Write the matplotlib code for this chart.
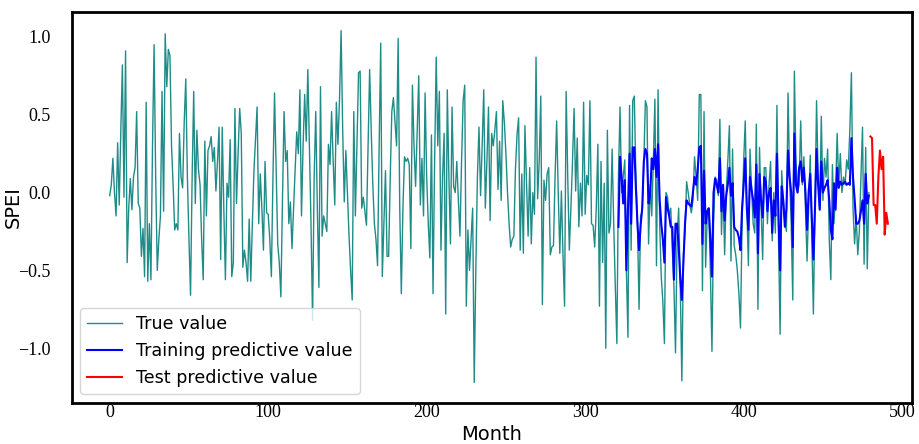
import matplotlib
matplotlib.use("Agg")
import matplotlib.pyplot as plt
import numpy as np

true_values = [
    -0.02, 0.05, 0.22, 0.0, -0.15, 0.32, -0.08, 0.40, 0.82, -0.03,
    0.91, -0.45, -0.10, 0.09, -0.11, 0.10, 0.16, 0.52, -0.07, -0.10,
    -0.41, -0.23, -0.54, 0.58, -0.57, -0.20, -0.56, 0.30, 0.95, 0.10,
    -0.50, -0.30, -0.15, 0.65, -0.12, 1.02, 0.68, 0.92, 0.88, 0.30,
    0.05, -0.24, -0.20, -0.24, 0.38, 0.10, 0.03, 0.45, 0.73, 0.10,
    -0.30, -0.66, 0.10, 0.65, -0.07, 0.40, 0.15, 0.05, -0.30, -0.56,
    0.33, -0.15, 0.27, 0.30, 0.36, 0.20, 0.29, 0.01, 0.20, 0.42,
    -0.43, 0.42, -0.11, -0.56, 0.06, -0.03, 0.34, -0.54, -0.45, 0.54,
    -0.07, 0.25, 0.54, 0.38, -0.48, -0.37, -0.45, -0.57, -0.17, -0.57,
    -0.20, 0.14, 0.35, 0.55, -0.20, 0.12, -0.10, -0.37, 0.20, -0.13,
    -0.14, -0.30, -0.54, 0.10, 0.64, 0.15, -0.33, -0.45, -0.67, -0.05,
    0.52, 0.20, 0.27, -0.20, -0.06, -0.36, -0.10, 0.15, 0.39, 0.25,
    0.66, -0.15, 0.30, 0.63, 0.33, 0.79, 0.30, -0.20, -0.82, 0.10,
    0.52, -0.10, -0.61, 0.68, -0.28, -0.15, -0.20, -0.25, 0.31, 0.18,
    0.52, 0.20, -0.08, 0.58, 0.31, 0.60, 1.04, 0.40, -0.06, 0.27,
    0.0, -0.28, -0.50, -0.69, 0.52, -0.15, 0.30, 0.77, 0.78, -0.10,
    -0.03, -0.12, -0.21, 0.30, 0.79, 0.40, 0.05, -0.20, -0.30, -0.47,
    0.30, 0.96, -0.54, -0.20, 0.14, -0.41, -0.41, 0.10, 0.52, 0.61,
    0.45, 0.30, 0.99, -0.10, -0.65, -0.10, 0.23, 0.20, 0.22, 0.18,
    -0.36, 0.69, 0.30, 0.04, 0.40, 0.75, -0.08, 0.22, -0.15, 0.64,
    0.10, -0.20, -0.42, 0.37, -0.65, 0.20, 0.87, 0.30, 0.65, -0.37,
    0.10, 0.38, -0.78, 0.66, 0.10, -0.33, 0.55, 0.04, 0.0, 0.20,
    -0.05, -0.28, 0.20, 0.59, 0.69, -0.73, -0.24, -0.50, -0.30, -0.10,
    -1.22, -0.50, 0.10, 0.42, -0.02, 0.30, 0.66, -0.10, 0.20, 0.55,
    -0.18, 0.38, 0.30, 0.40, 0.52, 0.02, 0.33, -0.05, 0.59, 0.45,
    0.25, 0.0, -0.20, -0.35, -0.30, -0.28, 0.15, 0.37, 0.48, -0.37,
    0.12, -0.39, 0.43, 0.06, -0.28, 0.16, -0.33, 0.0, -0.14, 0.87,
    -0.04, 0.20, 0.62, -0.72, 0.08, -0.05, 0.12, 0.16, -0.40, -0.35,
    -0.34, 0.10, 0.46, 0.0, -0.39, 0.01, -0.40, -0.73, 0.65, 0.10,
    -0.37, -0.10, 0.20, 0.54, 0.01, 0.35, -0.22, 0.06, -0.15, 0.58,
    -0.14, 0.11, 0.05, 0.59, -0.20, -0.21, -0.35, -0.10, 0.31, -0.73,
    0.20, -0.45, 0.06, -1.00, 0.40, -0.26, -0.20, 0.28, -0.20, -0.60,
    -0.97, 0.10, 0.55, 0.0, 0.10, 0.21, -0.50, -0.93, 0.56, -0.37,
    0.59, 0.62, 0.10, -0.20, -0.75, -0.15, -0.12, 0.20, 0.59, 0.55,
    -0.33, 0.05, -0.15, 0.20, 0.60, -0.47, 0.66, -0.20, -0.54, -0.70,
    -0.97, 0.0, -0.03, -0.15, -0.10, -0.37, -0.60, -1.03, -0.30, -0.10,
    -0.60, -1.21, -0.40, -0.25, 0.07, 0.0, -0.08, -0.13, -0.05, 0.23,
    0.10, -0.05, 0.63, 0.63, -0.63, 0.52, -0.48, -0.15, -0.12, -0.50,
    -1.02, -0.20, 0.10, 0.08, -0.02, 0.47, -0.27, 0.05, -0.40, 0.0,
    0.20, 0.43, -0.44, 0.28, -0.34, -0.40, -0.50, -0.65, -0.87, -0.20,
    0.20, 0.46, -0.10, -0.47, 0.28, 0.02, -0.20, -0.26, 0.44, -0.75,
    0.29, -0.10, -0.43, 0.16, 0.16, -0.20, 0.05, 0.20, -0.31, 0.0,
    -0.26, 0.56, -0.30, -0.91, 0.14, -0.05, -0.18, -0.25, 0.64, 0.10,
    -0.20, -0.69, 0.78, 0.20, 0.00, 0.05, 0.46, 0.05, 0.23, -0.10,
    -0.44, -0.10, 0.24, -0.30, -0.78, -0.10, 0.59, 0.10, -0.11, 0.49,
    -0.05, 0.22, 0.10, 0.28, -0.30, -0.56, 0.18, -0.20, 0.0, 0.38,
    0.05, 0.25, 0.0, 0.10, 0.05, 0.21, 0.15, 0.40, 0.77, -0.10,
    -0.33, -0.15, -0.40, -0.25, 0.10, 0.42, -0.46, 0.29, -0.49, 0.0,
]

train_start = 321
train_values = [
    -0.22, 0.23, 0.10, -0.07, 0.08, -0.50, -0.10, 0.25, -0.20, 0.29,
    0.29, 0.03, -0.20, -0.37, -0.21, -0.10, 0.20, 0.28, 0.25, -0.07,
    -0.02, 0.22, 0.15, 0.28, 0.10, 0.31, -0.05, -0.20, -0.30, -0.45,
    -0.03, -0.10, -0.15, -0.22, -0.22, -0.56, -0.20, -0.20, -0.35, -0.55,
    -0.69, -0.45, -0.20, -0.05, -0.07, -0.08, -0.09, 0.0, 0.10, 0.05,
    0.15, 0.29, 0.30, -0.33, 0.14, -0.20, -0.12, -0.10, -0.30, -0.54,
    0.0, 0.09, 0.05, 0.0, 0.22, -0.12, 0.05, -0.18, -0.02, 0.05,
    0.16, -0.02, 0.06, -0.22, -0.24, -0.25, -0.29, -0.37, -0.10, 0.05,
    0.22, -0.10, -0.24, 0.10, 0.02, -0.05, -0.16, 0.18, -0.39, 0.12,
    -0.05, -0.16, 0.10, 0.07, -0.12, 0.0, 0.03, -0.26, -0.05, -0.15,
    0.25, -0.15, -0.50, 0.04, -0.05, -0.22, -0.10, 0.27, 0.10, 0.0,
    -0.35, 0.38, 0.05, 0.0, 0.16, 0.20, 0.07, 0.16, 0.0, -0.24,
    0.0, 0.12, -0.15, -0.43, -0.10, 0.28, 0.05, -0.11, 0.20, 0.0,
    0.03, 0.05, 0.08, -0.05, -0.24, -0.30, 0.06, -0.11, 0.16, 0.03,
    0.07, 0.05, 0.06, 0.07, 0.05, 0.06, 0.05, 0.35, 0.10, -0.04,
    -0.20, -0.20, -0.18, -0.12, -0.05, -0.20, 0.12, -0.07, -0.02,
]

test_start = 480
test_values = [0.36, 0.35, -0.08, -0.08, -0.20, 0.10, 0.27, 0.15, 0.23, -0.27, -0.13, -0.20]

x_ticks = [0, 100, 200, 300, 400, 500]
y_ticks = [-1.0, -0.5, 0.0, 0.5, 1.0]
y_tick_labels = ["\u22121.0", "\u22120.5", "0.0", "0.5", "1.0"]

fig = plt.figure(figsize=(9.19, 4.44), dpi=100)
ax = fig.add_axes([0.078, 0.093, 0.914, 0.880])

x_true = np.arange(len(true_values))
x_train = np.arange(train_start, train_start + len(train_values))
x_test = np.arange(test_start, test_start + len(test_values))

ax.plot(x_true, true_values, color="#1f8c88", lw=1.0, label="True value")
ax.plot(x_train, train_values, color="#0000ff", lw=1.5, label="Training predictive value")
ax.plot(x_test, test_values, color="#ff0000", lw=1.5, label="Test predictive value")

ax.set_xlim(-24, 506)
ax.set_ylim(-1.35, 1.16)
ax.set_xticks(x_ticks)
ax.set_yticks(y_ticks)
ax.set_xticklabels([str(t) for t in x_ticks], family="Liberation Serif", fontsize=13)
ax.set_yticklabels(y_tick_labels, family="Liberation Serif", fontsize=13)
ax.tick_params(axis="x", length=0, pad=1)
ax.tick_params(axis="y", length=0, pad=15)
for s in ax.spines.values():
    s.set_linewidth(2)
    s.set_color("black")

ax.set_xlabel("Month", fontsize=14, labelpad=3)
ax.set_ylabel("SPEI", fontsize=14)
ax.yaxis.set_label_coords(-0.058, 0.5)

ax.legend(loc="lower left", fontsize=12.6, frameon=True, fancybox=True,
          borderpad=0.4, handlelength=2.0, labelspacing=0.5,
          bbox_to_anchor=(0.0, 0.0))

fig.savefig("out.png", dpi=100)
